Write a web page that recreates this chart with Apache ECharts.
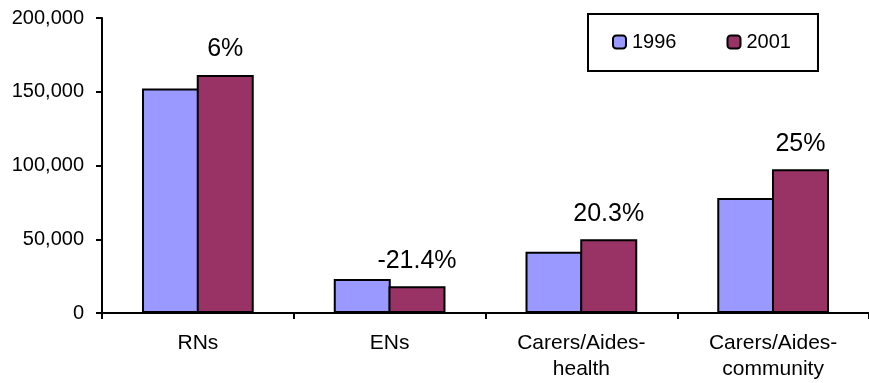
<!DOCTYPE html>
<html>
<head>
<meta charset="utf-8">
<script src="https://cdn.jsdelivr.net/npm/echarts@6/dist/echarts.min.js"></script>
<style>
  html, body { margin: 0; padding: 0; background: #ffffff; }
  #chart { width: 869px; height: 383px; }
</style>
</head>
<body>
<div id="chart"></div>
<script>
// Nursing workforce by occupation, 1996 vs 2001
const categories = ['RNs', 'ENs', 'Carers/Aides-\nhealth', 'Carers/Aides-\ncommunity'];
const years = ['1996', '2001'];
const values1996 = [152200, 23000, 41600, 78000];
const values2001 = [161300, 18080, 50050, 97500];
const changeLabels = ['6%', '-21.4%', '20.3%', '25%'];
const yTicks = { min: 0, max: 200000, interval: 50000 };

const font = 'Liberation Sans, Arial, sans-serif';
const chart = echarts.init(document.getElementById('chart'), null, { renderer: 'canvas' });

chart.setOption({
  animation: false,
  backgroundColor: '#ffffff',
  textStyle: { fontFamily: font, color: '#000' },
  grid: { left: 102, right: -8, top: 18, bottom: 70, containLabel: false },
  legend: {
    data: years,
    left: 588,
    top: 14,
    orient: 'horizontal',
    itemWidth: 13,
    itemHeight: 13,
    itemGap: 50,
    padding: [18, 27, 19, 24],
    borderColor: '#000',
    borderWidth: 2,
    textStyle: { fontFamily: font, fontSize: 20, color: '#000', padding: [0, 0, 0, 1] }
  },
  xAxis: {
    type: 'category',
    data: categories,
    axisLine: { lineStyle: { color: '#000', width: 2 } },
    axisTick: { show: true, inside: false, length: 6, lineStyle: { color: '#000', width: 2 } },
    axisLabel: { fontFamily: font, fontSize: 21, color: '#000', margin: 17, lineHeight: 26, interval: 0 },
    splitLine: { show: false }
  },
  yAxis: {
    type: 'value',
    min: yTicks.min,
    max: yTicks.max,
    interval: yTicks.interval,
    axisLine: { show: true, lineStyle: { color: '#000', width: 2 } },
    axisTick: { show: true, inside: false, length: 6, lineStyle: { color: '#000', width: 2 } },
    axisLabel: { fontFamily: font, fontSize: 20, color: '#000', margin: 18 },
    splitLine: { show: false }
  },
  series: [
    {
      name: years[0],
      type: 'bar',
      data: values1996,
      barWidth: 57,
      barGap: '-4%',
      itemStyle: { color: '#9999FF', borderColor: '#000', borderWidth: 2 }
    },
    {
      name: years[1],
      type: 'bar',
      data: values2001,
      barWidth: 57,
      barGap: '-4%',
      itemStyle: { color: '#993366', borderColor: '#000', borderWidth: 2 },
      label: {
        show: true,
        position: 'top',
        distance: 13,
        fontFamily: font,
        fontSize: 25,
        color: '#000',
        formatter: (p) => changeLabels[p.dataIndex]
      }
    }
  ]
});
</script>
</body>
</html>
